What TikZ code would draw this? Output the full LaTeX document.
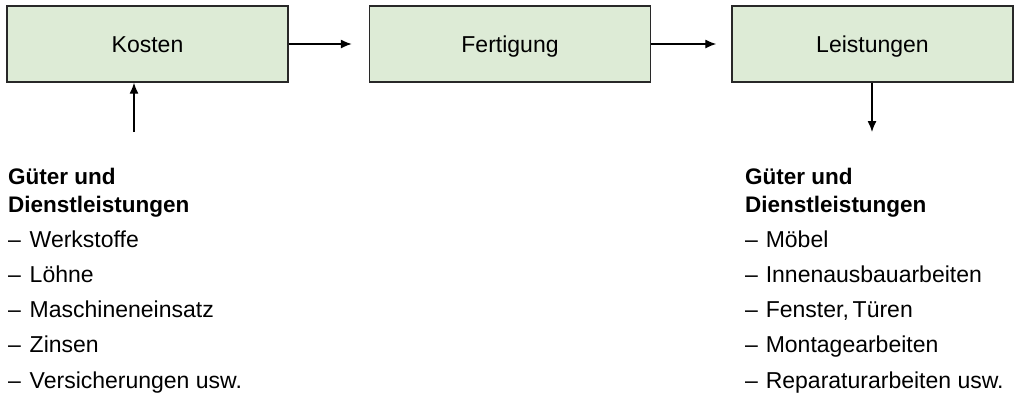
\documentclass[tikz,border=0pt]{standalone}
\usepackage{fontspec}
\setmainfont{Liberation Sans}
\usetikzlibrary{arrows.meta}
\definecolor{boxfill}{RGB}{221,235,214}
\definecolor{boxline}{RGB}{40,40,40}
\begin{document}
\begin{tikzpicture}[x=1pt,y=-1pt,
  procbox/.style={draw=boxline,fill=boxfill,line width=1.4pt,minimum width=281pt,minimum height=76pt,inner sep=0pt,text height=16.5pt,text depth=0pt,font=\fontsize{23}{27}\selectfont},
  flow/.style={line width=1.3pt,-{Latex[length=11pt,width=9pt]}},
  head/.style={anchor=base west,inner sep=0pt,font=\bfseries\fontsize{22.5}{27}\selectfont},
  item/.style={anchor=base west,inner sep=0pt,font=\fontsize{23}{27}\selectfont}]
\useasboundingbox (0,0) rectangle (1016,397);
\node[procbox] (kosten) at (147.5,44) {Kosten};
\node[procbox] (fert) at (510,44) {Fertigung};
\node[procbox] (leist) at (872.5,44) {Leistungen};
\draw[flow,shorten >=17pt] (kosten.east) -- (fert.west);
\draw[flow,shorten >=15pt] (fert.east) -- (leist.west);
\coordinate (inflow) at (134,132);
\coordinate (outflow) at (872,132);
\draw[flow] (inflow) -- (inflow |- kosten.south);
\draw[flow] (outflow |- leist.south) -- (outflow);
% left list
\node[head] (lh1) at (8,184) {Güter und};
\node[head] (lh2) at (8,212) {Dienstleistungen};
\node[item] (l1) at (8,247) {–\hspace{0.38em}Werkstoffe};
\node[item] (l2) at (8,282) {–\hspace{0.38em}Löhne};
\node[item] (l3) at (8,317.5) {–\hspace{0.38em}Maschineneinsatz};
\node[item] (l4) at (8,352.5) {–\hspace{0.38em}Zinsen};
\node[item] (l5) at (8,388) {–\hspace{0.38em}Versicherungen usw.};
% right list
\node[head] (rh1) at (745,184) {Güter und};
\node[head] (rh2) at (745,212) {Dienstleistungen};
\node[item] (r1) at (745,247) {–\hspace{0.34em}Möbel};
\node[item] (r2) at (745,282) {–\hspace{0.34em}Innenausbauarbeiten};
\node[item] (r3) at (745,317.5) {–\hspace{0.34em}Fenster,\,Türen};
\node[item] (r4) at (745,352.5) {–\hspace{0.34em}Montagearbeiten};
\node[item] (r5) at (745,388) {–\hspace{0.34em}Reparaturarbeiten usw.};
\end{tikzpicture}
\end{document}
